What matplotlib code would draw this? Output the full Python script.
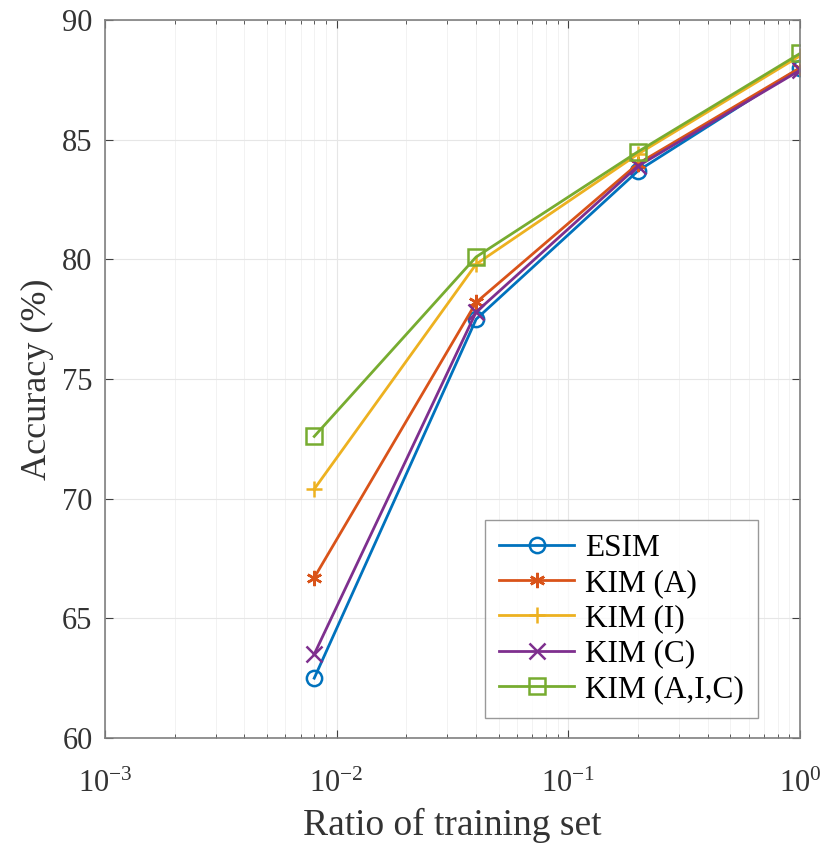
import numpy as np
import matplotlib.pyplot as plt

plt.rcParams['font.family'] = ['Liberation Serif', 'DejaVu Serif']
plt.rcParams['mathtext.fontset'] = 'custom'
plt.rcParams['mathtext.rm'] = 'Liberation Serif'
plt.rcParams['mathtext.it'] = 'Liberation Serif:italic'

ratio = [0.008, 0.04, 0.2, 1.0]
esim = [62.5, 77.5, 83.7, 88.0]
kim_a = [66.7, 78.2, 84.0, 88.0]
kim_i = [70.4, 79.8, 84.4, 88.5]
kim_c = [63.5, 77.8, 83.9, 87.9]
kim_aic = [72.6, 80.1, 84.5, 88.6]

series = [
    ('ESIM', esim, '#0072BD', 'o'),
    ('KIM (A)', kim_a, '#D95319', (6, 2, 0)),
    ('KIM (I)', kim_i, '#EDB120', '+'),
    ('KIM (C)', kim_c, '#7E2F8E', 'x'),
    ('KIM (A,I,C)', kim_aic, '#77AC30', 's'),
]

fig = plt.figure(figsize=(8.25, 8.47), dpi=100)
ax = fig.add_axes([0.1273, 0.1287, 0.8424, 0.8477])

for nombre, vals, col, mk in series:
    ax.plot(ratio, vals, color=col, lw=2, marker=mk, ms=11, mew=1.8,
            mfc='none', label=nombre)

ax.set_xscale('log')
ax.set_xlim(1e-3, 1)
ax.set_ylim(60, 90)
ax.set_yticks([60, 65, 70, 75, 80, 85, 90])
ax.set_xticks([1e-3, 1e-2, 1e-1, 1])
ax.set_xticklabels([r'$10^{-3}$', r'$10^{-2}$', r'$10^{-1}$', r'$10^{0}$'])

ax.grid(True, which='major', color='#e6e6e6', lw=0.8)
ax.grid(True, which='minor', axis='x', color='#f0f0f0', lw=0.6)
ax.tick_params(which='both', direction='in', top=True, right=True,
               colors='#404040', labelcolor='#333333', labelsize=22)
ax.tick_params(which='major', length=6)
ax.tick_params(which='minor', length=3)
ax.tick_params(axis='x', pad=23)
ax.tick_params(axis='y', pad=9)
for s in ax.spines.values():
    s.set_color('#808080')
    s.set_linewidth(1.2)

ax.set_xlabel('Ratio of training set', fontsize=27, color='#333333', labelpad=6)
ax.set_ylabel('Accuracy (%)', fontsize=26, color='#333333', labelpad=6)

leg = ax.legend(loc='lower right', bbox_to_anchor=(0.9396, 0.028),
                fontsize=22.5, frameon=True, fancybox=False,
                edgecolor='#808080', handlelength=2.4, handletextpad=0.35,
                borderaxespad=0, labelspacing=0.2, borderpad=0.45)
leg.get_frame().set_linewidth(1.0)

fig.savefig('out.png', dpi=100)
